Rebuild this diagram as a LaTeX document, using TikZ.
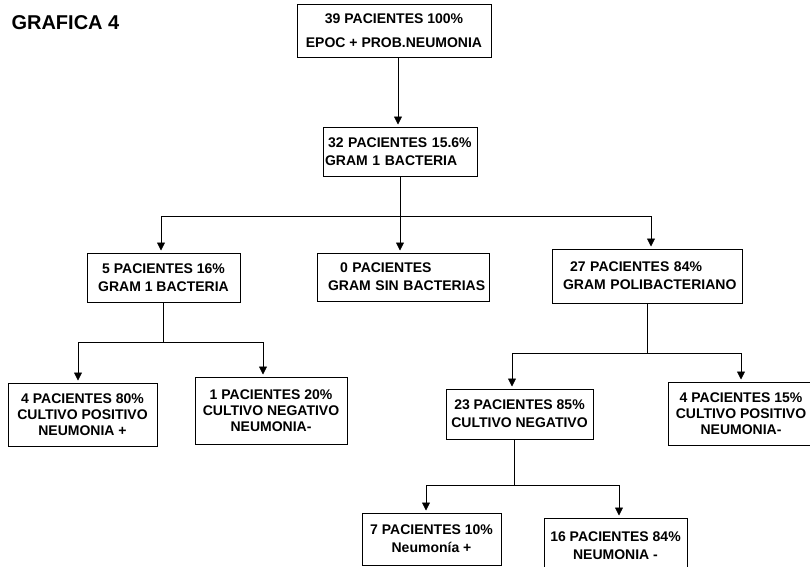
\documentclass[tikz,border=0pt]{standalone}
\usepackage{fontspec}
\setmainfont{Liberation Sans}
\usetikzlibrary{arrows.meta}
\tikzset{
  box/.style={draw, line width=1pt, inner sep=0pt, align=center,
    font=\bfseries\fontsize{14}{18}\selectfont},
  boxwide/.style={box, font=\bfseries\fontsize{14}{24}\selectfont},
  boxthree/.style={box, font=\bfseries\fontsize{14}{16}\selectfont},
  boxleft/.style={box, align=left},
  link/.style={line width=0.8pt},
  arr/.style={line width=0.8pt, -{Triangle[width=8pt,length=8pt]}, shorten >=2pt},
}
\begin{document}
\begin{tikzpicture}[x=1pt,y=-1pt]
\useasboundingbox (0,0) rectangle (810,566);
\fill[white] (0,0) rectangle (810,566);
\clip (0,0) rectangle (810,566);

\node[anchor=base west, font=\bfseries\fontsize{20}{24}\selectfont] (title) at (8,29) {GRAFICA 4};

\node[boxwide, minimum width=194, minimum height=53] (b1) at (394,30.5)
  {39 PACIENTES 100\%\\EPOC + PROB.NEUMONIA};
\node[boxleft, text width=154, minimum height=49] (b2) at (400,151.5)
  {\hspace*{5pt}32 PACIENTES 15.6\%\\\hspace*{2pt}GRAM 1 BACTERIA};

\node[box, minimum width=153, minimum height=49] (b3l) at (163.5,277.5)
  {5 PACIENTES 16\%\\GRAM 1 BACTERIA};
\node[boxleft, text width=172, minimum height=48] (b3m) at (403,277)
  {\hspace*{23pt}0 PACIENTES\\\hspace*{11pt}GRAM SIN BACTERIAS};
\node[boxleft, text width=190, minimum height=54] (b3r) at (647,276)
  {\hspace*{18pt}27 PACIENTES 84\%\\\hspace*{11pt}GRAM POLIBACTERIANO};

\node[boxthree, minimum width=149, minimum height=63] (b4a) at (82.5,414.5)
  {4 PACIENTES 80\%\\CULTIVO POSITIVO\\NEUMONIA +};
\node[boxthree, minimum width=152, minimum height=67] (b4b) at (271,410.5)
  {1 PACIENTES 20\%\\CULTIVO NEGATIVO\\NEUMONIA-};
\node[box, minimum width=147, minimum height=50] (b4c) at (519.5,414)
  {23 PACIENTES 85\%\\CULTIVO NEGATIVO};
\node[boxthree, minimum width=146, minimum height=63] (b4d) at (741,413.5)
  {4 PACIENTES 15\%\\CULTIVO POSITIVO\\NEUMONIA-};

\node[box, minimum width=139, minimum height=52] (b5a) at (431.5,539)
  {7 PACIENTES 10\%\\Neumonía +};
\node[box, minimum width=143, minimum height=56] (b5b) at (615.5,546)
  {16 PACIENTES 84\%\\NEUMONIA -};

% level 1 -> 2
\draw[arr] ([xshift=4pt]b1.south) -- ([xshift=-2pt]b2.north);

% level 2 -> 3
\coordinate (h1l) at (161,216);
\coordinate (h1r) at (651,216);
\draw[link] (h1l) -- (h1r);
\draw[link] (b2.south) -- (b2.south |- h1l);
\draw[arr] (h1l) -- (h1l |- b3l.north);
\draw[arr] (b2.south |- h1l) -- (b2.south |- b3m.north);
\draw[arr] (h1r) -- (h1r |- b3r.north);

% b3l -> b4a, b4b
\coordinate (h2l) at (78,342);
\coordinate (h2r) at (263,342);
\draw[link] (h2l) -- (h2r);
\draw[link] (b3l.south) -- (b3l.south |- h2l);
\draw[arr] (h2l) -- (h2l |- b4a.north);
\draw[arr] (h2r) -- (h2r |- b4b.north);

% b3r -> b4c, b4d
\coordinate (h3l) at (512,353);
\coordinate (h3r) at (741,353);
\draw[link] (h3l) -- (h3r);
\draw[link] (b3r.south) -- (b3r.south |- h3l);
\draw[arr] (h3l) -- (h3l |- b4c.north);
\draw[arr] (h3r) -- (h3r |- b4d.north);

% b4c -> b5a, b5b
\coordinate (h4l) at (426,485);
\coordinate (h4r) at (619,485);
\draw[link] (h4l) -- (h4r);
\draw[link] ([xshift=-5.5pt]b4c.south) -- ([xshift=-5.5pt]b4c.south |- h4l);
\draw[arr] (h4l) -- (h4l |- b5a.north);
\draw[arr] (h4r) -- (h4r |- b5b.north);
\end{tikzpicture}
\end{document}
